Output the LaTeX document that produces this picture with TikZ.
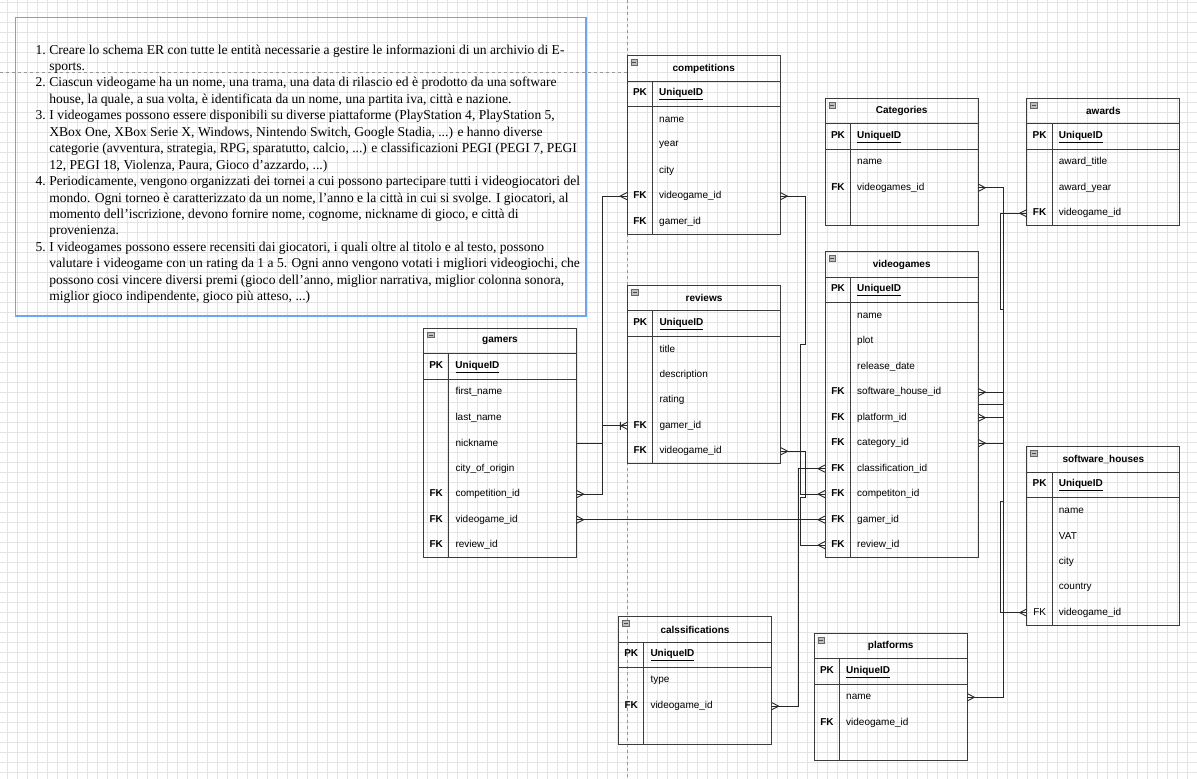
\documentclass[tikz,border=0pt]{standalone}
\usepackage{fontspec}
\setmainfont{Liberation Sans}
\newfontfamily\notefont{Liberation Serif}

\definecolor{notebox}{RGB}{110,165,240}
\definecolor{gridc}{RGB}{228,228,228}
\definecolor{edgec}{RGB}{40,40,40}
\definecolor{framec}{RGB}{60,60,60}

% crow's foot (many) end marker
\pgfdeclarearrow{
  name = ermany,
  setup code = {
    \pgfarrowssettipend{0pt}
    \pgfarrowssetlineend{0pt}
    \pgfarrowssetbackend{-7pt}
  },
  drawing code = {
    \pgfsetdash{}{0pt}
    \pgfpathmoveto{\pgfqpoint{0pt}{3.6pt}}
    \pgfpathlineto{\pgfqpoint{-7pt}{0pt}}
    \pgfpathlineto{\pgfqpoint{0pt}{-3.6pt}}
    \pgfusepathqstroke
  },
  parameters = {},
}
% one-to-many end marker (bar plus crow's foot)
\pgfdeclarearrow{
  name = eronemany,
  setup code = {
    \pgfarrowssettipend{0pt}
    \pgfarrowssetlineend{0pt}
    \pgfarrowssetbackend{-8pt}
  },
  drawing code = {
    \pgfsetdash{}{0pt}
    \pgfpathmoveto{\pgfqpoint{0pt}{3.6pt}}
    \pgfpathlineto{\pgfqpoint{-6.5pt}{0pt}}
    \pgfpathlineto{\pgfqpoint{0pt}{-3.6pt}}
    \pgfpathmoveto{\pgfqpoint{-7pt}{4pt}}
    \pgfpathlineto{\pgfqpoint{-7pt}{-4pt}}
    \pgfusepathqstroke
  },
  parameters = {},
}

\newcommand\keycol[1]{\makebox[25.5pt][c]{\bfseries #1}\hspace{6.5pt}}

% entity table: name, left, top, title, number of attribute rows, rows key/field
\newcommand\ertable[6]{%
  \node[erhead, anchor=north west] (#1) at (#2,#3) {#4};
  \draw[ericon] (#2+4,#3+4) rectangle ++(6.5,5.5);
  \draw[draw=black!70, line width=0.8pt] (#2+5.2,#3+6.75) -- ++(4.1,0);
  \node[errow, anchor=north west] (#1-pk) at (#2,#3+25.5) {\keycol{PK}\textbf{\underline{UniqueID}}};
  \foreach \k/\f [count=\i] in {#6} {
    \node[errow, anchor=north west] (#1-\i) at (#2,{#3+25.5+25.5*\i}) {\keycol{\k}\f};
  }
  \coordinate (#1-e) at ({#2+153},{#3+12.75*(2+#5)});
  \draw[erframe] (#2,#3) rectangle ++(153,{25.5*(2+#5)});
  \draw[erframe] (#2,#3+25.5) -- ++(153,0) (#2,#3+51) -- ++(153,0);
  \draw[erframe] (#2+25.5,#3+25.5) -- ++(0,{25.5*(1+#5)});
}

\begin{document}
\begin{tikzpicture}[x=1pt,y=-1pt,
  gridline/.style={draw=gridc, line width=0.6pt},
  pagebreak/.style={draw=black!40, dash pattern=on 3pt off 3pt, line width=0.7pt},
  erframe/.style={draw=framec, line width=0.9pt},
  ericon/.style={draw=black!60, fill=black!25, line width=0.5pt},
  erhead/.style={minimum width=153pt, minimum height=25.5pt, inner sep=0pt,
    font=\bfseries\fontsize{10}{12}\selectfont},
  errow/.style={text width=153pt, minimum height=25.5pt, inner sep=0pt, align=left,
    font=\fontsize{10}{12}\selectfont},
  rel/.style={draw=edgec, line width=0.9pt},
]
\useasboundingbox (0,0) rectangle (1197,779);
\fill[white] (0,0) rectangle (1197,779);

% background grid
\foreach \gx in {7,17,...,1197} \draw[gridline] (\gx,0) -- (\gx,779);
\foreach \gy in {2,12,...,772} \draw[gridline] (0,\gy) -- (1197,\gy);

% page breaks
\draw[pagebreak] (627,0) -- (627,779);
\draw[pagebreak] (0,72) -- (627,72);

% requirements note
\node[draw=notebox, line width=1.5pt, minimum width=570.5pt, minimum height=298.5pt,
  inner sep=0pt, anchor=north west] (notes) at (14.5,16.5) {};
\node[anchor=base west, inner sep=0pt] (notes-text) at (35.5,54) {%
  \notefont\fontsize{13.55}{16.45}\selectfont
  \begin{tabular}[t]{@{}r@{\hspace{3.5pt}}l@{}}
  1. & Creare lo schema ER con tutte le entità necessarie a gestire le informazioni di un archivio di E-\\
     & sports.\\
  2. & Ciascun videogame ha un nome, una trama, una data di rilascio ed è prodotto da una software\\
     & house, la quale, a sua volta, è identificata da un nome, una partita iva, città e nazione.\\
  3. & I videogames possono essere disponibili su diverse piattaforme (PlayStation 4, PlayStation 5,\\
     & XBox One, XBox Serie X, Windows, Nintendo Switch, Google Stadia, ...) e hanno diverse\\
     & categorie (avventura, strategia, RPG, sparatutto, calcio, ...) e classificazioni PEGI (PEGI 7, PEGI\\
     & 12, PEGI 18, Violenza, Paura, Gioco d’azzardo, ...)\\
  4. & Periodicamente, vengono organizzati dei tornei a cui possono partecipare tutti i videogiocatori del\\
     & mondo. Ogni torneo è caratterizzato da un nome, l’anno e la città in cui si svolge. I giocatori, al\\
     & momento dell’iscrizione, devono fornire nome, cognome, nickname di gioco, e città di\\
     & provenienza.\\
  5. & I videogames possono essere recensiti dai giocatori, i quali oltre al titolo e al testo, possono\\
     & valutare i videogame con un rating da 1 a 5. Ogni anno vengono votati i migliori videogiochi, che\\
     & possono cosi vincere diversi premi (gioco dell’anno, miglior narrativa, miglior colonna sonora,\\
     & miglior gioco indipendente, gioco più atteso, ...)
  \end{tabular}};

% entities
\ertable{comp}{627}{55.7}{competitions}{5}{{}/name,{}/year,{}/city,FK/videogame\_id,FK/gamer\_id}
\ertable{cat}{825}{98.3}{Categories}{3}{{}/name,FK/videogames\_id,{}/{}}
\ertable{awards}{1026.7}{98.3}{awards}{3}{{}/award\_title,{}/award\_year,FK/videogame\_id}
\ertable{gamers}{423.3}{328.2}{gamers}{7}{{}/first\_name,{}/last\_name,{}/nickname,{}/city\_of\_origin,FK/competition\_id,FK/videogame\_id,FK/review\_id}
\ertable{reviews}{627.3}{285.3}{reviews}{5}{{}/title,{}/description,{}/rating,FK/gamer\_id,FK/videogame\_id}
\ertable{vg}{825}{251.7}{videogames}{10}{{}/name,{}/plot,{}/release\_date,FK/software\_house\_id,FK/platform\_id,FK/category\_id,FK/classification\_id,FK/competiton\_id,FK/gamer\_id,FK/review\_id}
\ertable{sh}{1026.7}{446.7}{software\_houses}{5}{{}/name,{}/VAT,{}/city,{}/country,{\mdseries FK}/videogame\_id}
\ertable{cls}{618.3}{616.7}{calssifications}{3}{{}/type,FK/videogame\_id,{}/{}}
\ertable{plat}{814}{633.3}{platforms}{3}{{}/name,FK/videogame\_id,{}/{}}

% relationships
\draw[rel, ermany-ermany] (gamers-5.east) -- ++(25.5,0) |- (comp-4.west);
\draw[rel, -eronemany] (gamers-3.east) -- ++(25.5,0) |- (reviews-4.west);
\draw[rel, ermany-ermany] (gamers-6.east) -- (vg-9.west);
\draw[rel, ermany-ermany] (comp-4.east) -| (805,344) -- (800,344) |- (vg-8.west);
\draw[rel, ermany-ermany] (reviews-5.east) -| (805,497) -- (800,497) |- (vg-10.west);
\draw[rel, ermany-ermany] (cls-2.east) -- ++(27,0) |- (vg-7.west);
\draw[rel, ermany-ermany] (cat-2.east) -- ++(25,0) |- (vg-6.east);
\draw[rel, ermany-] (awards-3.west) -| (1000.7,309.3) -- (1003.3,309.3) |- (vg-e);
\draw[rel, ermany-ermany] (sh-5.west) -| (1000.7,501.7) -- (1003.3,501.7) |- (vg-4.east);
\draw[rel, ermany-ermany] (plat-1.east) -- ++(36,0) |- (vg-5.east);
\end{tikzpicture}
\end{document}
